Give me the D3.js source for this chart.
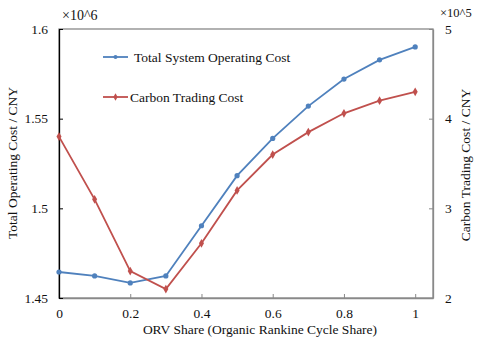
<!DOCTYPE html>
<html lang="en">
<head>
<meta charset="UTF-8">
<title>ORV share cost</title>
<style>
  * { margin: 0; padding: 0; }
  body { background: #fff; }
  svg text { font-family: "Liberation Serif", "Times New Roman", serif; fill: #111; }
</style>
<script src="https://cdn.jsdelivr.net/npm/d3@7"></script>
</head>
<body>
<div id="chart"></div>
<script>
  // data
  var shares = [0, 0.1, 0.2, 0.3, 0.4, 0.5, 0.6, 0.7, 0.8, 0.9, 1];
  var totalCost = [1.4645, 1.4623, 1.4584, 1.4623, 1.4903, 1.5182, 1.539, 1.557, 1.5721, 1.5828, 1.590]; // x10^6
  var carbonCost = [3.80, 3.10, 2.30, 2.10, 2.61, 3.20, 3.60, 3.85, 4.06, 4.20, 4.30]; // x10^5
  var xTicks = [0, 0.2, 0.4, 0.6, 0.8, 1];
  var leftTicks = [1.45, 1.5, 1.55, 1.6];
  var rightTicks = [2, 3, 4, 5];

  var w = 480, h = 343;
  // plot box (note: "top" is taken by window.top)
  var pLeft = 59, pRight = 433, pTop = 29, pBottom = 298;
  var blue = '#4f81bd', red = '#c0504d';
  var fs = 13.5;

  var svg = d3.select('#chart').append('svg')
      .attr('width', w).attr('height', h);

  var x = d3.scaleLinear().domain([0, 1.05]).range([pLeft, pRight]);
  var yL = d3.scaleLinear().domain([1.45, 1.6]).range([pBottom, pTop]);
  var yR = d3.scaleLinear().domain([2, 5]).range([pBottom, pTop]);

  // frame
  svg.append('rect')
      .attr('x', pLeft).attr('y', pTop)
      .attr('width', pRight - pLeft).attr('height', pBottom - pTop)
      .attr('fill', 'none').attr('stroke', '#898989').attr('stroke-width', 1.3);

  // x axis
  var xAxis = svg.append('g')
      .attr('transform', 'translate(0,' + pBottom + ')')
      .call(d3.axisBottom(x).tickValues(xTicks).tickSizeInner(-4).tickSizeOuter(0)
          .tickPadding(10).tickFormat(d3.format('')));
  xAxis.select('.domain').attr('stroke', '#898989').attr('stroke-width', 1.3);
  xAxis.selectAll('line').attr('stroke', '#898989');

  // left axis
  var lAxis = svg.append('g')
      .attr('transform', 'translate(' + pLeft + ',0)')
      .call(d3.axisLeft(yL).tickValues(leftTicks).tickSizeInner(-4).tickSizeOuter(0)
          .tickPadding(11).tickFormat(d3.format('')));
  lAxis.select('.domain').attr('stroke', '#000').attr('stroke-width', 1.3);

  // right axis
  var rAxis = svg.append('g')
      .attr('transform', 'translate(' + pRight + ',0)')
      .call(d3.axisRight(yR).tickValues(rightTicks).tickSizeInner(-4).tickSizeOuter(0)
          .tickPadding(12).tickFormat(d3.format('d')));
  rAxis.select('.domain').attr('stroke', '#898989').attr('stroke-width', 1.3);
  rAxis.selectAll('line').attr('stroke', '#898989');

  svg.selectAll('.tick text').attr('font-size', fs);

  // titles
  svg.append('text').attr('x', 260).attr('y', 334).attr('text-anchor', 'middle')
      .attr('font-size', fs).text('ORV Share (Organic Rankine Cycle Share)');
  svg.append('text').attr('transform', 'translate(17,' + 163 + ') rotate(-90)')
      .attr('text-anchor', 'middle').attr('font-size', fs).text('Total Operating Cost / CNY');
  svg.append('text').attr('transform', 'translate(470,' + 165 + ') rotate(-90)')
      .attr('text-anchor', 'middle').attr('font-size', fs).text('Carbon Trading Cost / CNY');
  svg.append('text').attr('x', 62).attr('y', 20).attr('font-size', 14).text('\u00d710^6');
  svg.append('text').attr('x', 440).attr('y', 17).attr('font-size', 12.5).text('\u00d710^5');

  // lines
  var blueLine = d3.line().x(function (d, i) { return x(shares[i]); }).y(function (d) { return yL(d); });
  var redLine = d3.line().x(function (d, i) { return x(shares[i]); }).y(function (d) { return yR(d); });

  svg.append('path').datum(totalCost).attr('d', blueLine)
      .attr('fill', 'none').attr('stroke', blue).attr('stroke-width', 1.8);
  svg.append('path').datum(carbonCost).attr('d', redLine)
      .attr('fill', 'none').attr('stroke', red).attr('stroke-width', 1.8);

  var diamond = d3.symbol().type(d3.symbolDiamond).size(22);

  svg.selectAll('.bdot').data(totalCost).enter().append('circle')
      .attr('class', 'bdot')
      .attr('cx', function (d, i) { return x(shares[i]); })
      .attr('cy', function (d) { return yL(d); })
      .attr('r', 2.6).attr('fill', blue);

  svg.selectAll('.rdot').data(carbonCost).enter().append('path')
      .attr('class', 'rdot')
      .attr('d', diamond)
      .attr('transform', function (d, i) { return 'translate(' + x(shares[i]) + ',' + yR(d) + ')'; })
      .attr('fill', red);

  // legend
  var legend = [
    { name: 'Total System Operating Cost', color: blue, y: 57, tx: 134, shape: 'circle' },
    { name: 'Carbon Trading Cost', color: red, y: 97, tx: 130, shape: 'diamond' }
  ];
  legend.forEach(function (l) {
    svg.append('line').attr('x1', 103).attr('x2', 128).attr('y1', l.y).attr('y2', l.y)
        .attr('stroke', l.color).attr('stroke-width', 1.8);
    if (l.shape === 'circle') {
      svg.append('circle').attr('cx', 115.5).attr('cy', l.y).attr('r', 2).attr('fill', l.color);
    } else {
      svg.append('path').attr('d', d3.symbol().type(d3.symbolDiamond).size(16))
          .attr('transform', 'translate(115.5,' + l.y + ')').attr('fill', l.color);
    }
    svg.append('text').attr('x', l.tx).attr('y', l.y + 4.5).attr('font-size', fs).text(l.name);
  });
</script>
</body>
</html>
